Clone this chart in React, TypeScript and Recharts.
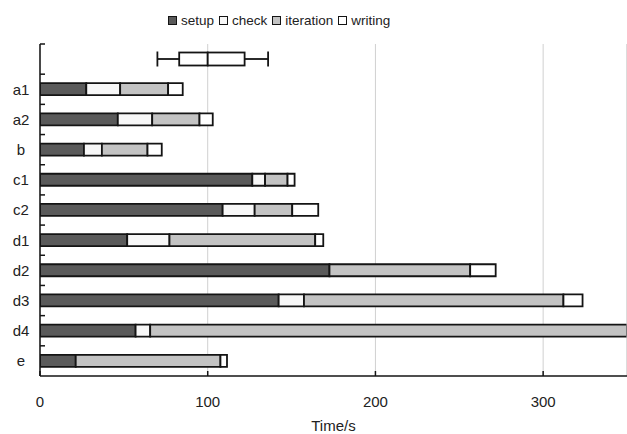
import React from 'react';
import { BarChart, Bar, XAxis, YAxis, CartesianGrid, Legend, ReferenceLine } from 'recharts';

const FONT = '"Liberation Sans", Arial, sans-serif';
const BOX_KEY = '(box)';

const categories = ['', 'a1', 'a2', 'b', 'c1', 'c2', 'd1', 'd2', 'd3', 'd4', 'e'];
const setup = [0, 27.6, 46.4, 26.2, 126.6, 108.9, 52, 172.6, 142.3, 57, 21.3];
const check = [0, 20.2, 20.5, 10.7, 7.6, 19.1, 25.2, 0, 15.1, 8.7, 0];
const iteration = [0, 28.6, 28.2, 27.2, 13.4, 22.4, 86.9, 83.9, 154.7, 300, 86.3];
const writing = [0, 8.7, 7.9, 8.5, 4.2, 15.5, 4.8, 15.2, 11.4, 10, 3.9];
// box plot: min, q1, median, q3, max
const boxStats = [70, 83, 100, 122, 136];
const xTicks = [0, 100, 200, 300];
const xDomain = [0, 350];

const seriesNames = ['setup', 'check', 'iteration', 'writing'];
const seriesColors = ['#5a5a5a', '#f7f7f7', '#c3c3c3', '#ffffff'];

const data = categories.map((c, i) => {
  const isBox = c === '';
  return {
    name: isBox ? BOX_KEY : c,
    setup: setup[i],
    check: check[i],
    iteration: iteration[i],
    writing: writing[i],
    wBase: isBox ? boxStats[0] : 0,
    wLow: isBox ? boxStats[1] - boxStats[0] : 0,
    boxL: isBox ? boxStats[2] - boxStats[1] : 0,
    boxR: isBox ? boxStats[3] - boxStats[2] : 0,
    wHigh: isBox ? boxStats[4] - boxStats[3] : 0,
  };
});

const INK = '#141414';

const WhiskerLow = (p: any) => {
  const { x, y, width, height } = p;
  if (!width || width <= 0) return null;
  const cy = y + height / 2;
  return (
    <g>
      <line x1={x} x2={x + width} y1={cy} y2={cy} stroke={INK} strokeWidth={1.8} />
      <line x1={x} x2={x} y1={cy - 7.5} y2={cy + 7.5} stroke={INK} strokeWidth={1.8} />
    </g>
  );
};

const WhiskerHigh = (p: any) => {
  const { x, y, width, height } = p;
  if (!width || width <= 0) return null;
  const cy = y + height / 2;
  return (
    <g>
      <line x1={x} x2={x + width} y1={cy} y2={cy} stroke={INK} strokeWidth={1.8} />
      <line x1={x + width} x2={x + width} y1={cy - 7.5} y2={cy + 7.5} stroke={INK} strokeWidth={1.8} />
    </g>
  );
};

const BoxPart = (p: any) => {
  const { x, y, width, height } = p;
  if (!width || width <= 0) return null;
  const cy = y + height / 2;
  return <rect x={x} y={cy - 6.5} width={width} height={13} fill="#ffffff" stroke={INK} strokeWidth={1.8} />;
};

const Empty = () => null;

const YTick = (props: any) => {
  const { x, y, payload } = props;
  const off = payload && typeof payload.offset === 'number' ? payload.offset : 15;
  const label = payload.value === BOX_KEY ? '' : payload.value;
  return (
    <g>
      <line x1={x} x2={x + 5} y1={y - off} y2={y - off} stroke={INK} strokeWidth={1.5} />
      <text x={x - 19} y={y} dy="0.36em" textAnchor="middle" fontSize={15} fill="#222" fontFamily={FONT}>
        {label}
      </text>
    </g>
  );
};

const renderLegend = () => (
  <div
    style={{
      height: 44,
      boxSizing: 'border-box',
      paddingTop: 13,
      paddingLeft: 168,
      display: 'flex',
      alignItems: 'flex-start',
      fontFamily: FONT,
      fontSize: 13.5,
      color: '#222',
    }}
  >
    {seriesNames.map((n, i) => (
      <div key={n} style={{ display: 'flex', alignItems: 'center', height: 15, marginRight: 5 }}>
        <span
          style={{
            display: 'inline-block',
            width: 7,
            height: 7,
            border: `1.5px solid ${INK}`,
            background: seriesColors[i],
            marginRight: 4,
          }}
        />
        <span style={{ lineHeight: '15px' }}>{n}</span>
      </div>
    ))}
  </div>
);

export default function App() {
  return (
    <div style={{ position: 'absolute', left: 0, top: 0, background: '#fff' }}>
      <BarChart
        width={627}
        height={434}
        data={data}
        layout="vertical"
        margin={{ top: 0, right: 0, bottom: 0, left: 0 }}
        barSize={12}
      >
        <CartesianGrid horizontal={false} stroke="#d0d0d0" strokeWidth={1} />
        <XAxis
          type="number"
          domain={xDomain}
          ticks={xTicks}
          allowDataOverflow
          axisLine={{ stroke: INK, strokeWidth: 1.5 }}
          tickLine={{ stroke: INK, strokeWidth: 1.5 }}
          tickSize={-5}
          tickMargin={25}
          height={58}
          tick={{ fontSize: 15, fill: '#222', fontFamily: FONT }}
          label={{ value: 'Time/s', position: 'insideBottom', offset: 3, fontSize: 15, fill: '#222', fontFamily: FONT }}
        />
        <XAxis
          xAxisId="top"
          orientation="top"
          type="number"
          domain={xDomain}
          allowDataOverflow
          tick={false}
          tickLine={false}
          height={0}
          axisLine={{ stroke: '#8a8a8a', strokeWidth: 2 }}
        />
        <YAxis
          type="category"
          dataKey="name"
          width={40}
          tickSize={0}
          tickMargin={0}
          interval={0}
          axisLine={{ stroke: INK, strokeWidth: 1.5 }}
          tickLine={false}
          tick={<YTick />}
        />
        <ReferenceLine x={350} stroke="#d0d0d0" />
        <Legend verticalAlign="top" align="left" content={renderLegend} />
        {seriesNames.map((n, i) => (
          <Bar
            key={n}
            dataKey={n}
            stackId="s"
            fill={seriesColors[i]}
            stroke={INK}
            strokeWidth={1.8}
            isAnimationActive={false}
          />
        ))}
        <Bar dataKey="wBase" stackId="s" shape={<Empty />} legendType="none" isAnimationActive={false} />
        <Bar dataKey="wLow" stackId="s" shape={<WhiskerLow />} legendType="none" isAnimationActive={false} />
        <Bar dataKey="boxL" stackId="s" shape={<BoxPart />} legendType="none" isAnimationActive={false} />
        <Bar dataKey="boxR" stackId="s" shape={<BoxPart />} legendType="none" isAnimationActive={false} />
        <Bar dataKey="wHigh" stackId="s" shape={<WhiskerHigh />} legendType="none" isAnimationActive={false} />
      </BarChart>
    </div>
  );
}
